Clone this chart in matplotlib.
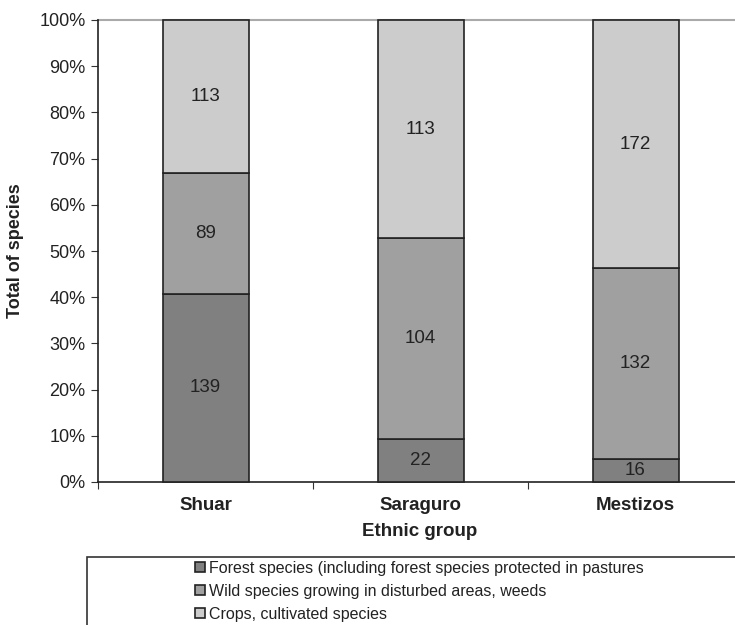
import matplotlib
matplotlib.use("Agg")
import matplotlib.pyplot as plt
import numpy as np
from matplotlib.patches import Rectangle

plt.rcParams['font.family'] = ['Liberation Sans', 'DejaVu Sans']

groups = ["Shuar", "Saraguro", "Mestizos"]
series_names = ["Forest species (including forest species protected in pastures",
                "Wild species growing in disturbed areas, weeds",
                "Crops, cultivated species"]
forest = [139, 22, 16]
wild = [89, 104, 132]
crops = [113, 113, 172]
colors = ["#808080", "#a0a0a0", "#cccccc"]

W, H = 735, 625
fig = plt.figure(figsize=(W / 100, H / 100), dpi=100)
ax = fig.add_axes([98 / W, 1 - 482 / H, 645 / W, 462 / H])

data = np.array([forest, wild, crops], dtype=float)
pct = data / data.sum(axis=0) * 100
x = np.arange(len(groups))
bottom = np.zeros(len(groups))
handles = []
for i in range(3):
    b = ax.bar(x, pct[i], 0.4, bottom=bottom, color=colors[i], edgecolor="#222222",
               linewidth=1.2, label=series_names[i], clip_on=False, zorder=3)
    handles.append(b)
    for j in range(len(groups)):
        ax.text(x[j], bottom[j] + pct[i][j] / 2, str(int(data[i][j])),
                ha="center", va="center", fontsize=13.5, color="#222222", zorder=4)
    bottom += pct[i]

ax.set_xlim(-0.5, 2.5)
ax.set_ylim(0, 100)
ax.set_yticks(np.arange(0, 101, 10))
ax.set_yticklabels([f"{v}%" for v in range(0, 101, 10)], fontsize=13, color="#222222")
ax.set_xticks([-0.5, 0.5, 1.5])
ax.set_xticklabels([])
ax.set_xticks(x, minor=True)
ax.set_xticklabels(groups, minor=True, fontsize=13.5, fontweight="bold", color="#222222")
ax.tick_params(axis="x", which="minor", length=0, pad=11)
ax.tick_params(axis="x", which="major", length=5, direction="out", color="#333333")
ax.tick_params(axis="y", length=5, direction="out", color="#333333", pad=4)
ax.axhline(100, color="#aaaaaa", linewidth=1.5, zorder=1, clip_on=False)
for s in ["top", "right"]:
    ax.spines[s].set_visible(False)
for s in ["left", "bottom"]:
    ax.spines[s].set_color("#222222")
    ax.spines[s].set_linewidth(1.2)
ax.set_xlabel("Ethnic group", fontsize=13.5, fontweight="bold", color="#222222")
ax.xaxis.set_label_coords((420 - 98) / 645, -(523 - 482) / 462)
ax.set_ylabel("Total of species", fontsize=13, fontweight="bold", color="#222222")
ax.yaxis.set_label_coords(-(98 - 24) / 645, 0.5)

# legend box
fig.patches.append(Rectangle((87 / W, -0.1), 1.0, 1 - 557 / H + 0.1, transform=fig.transFigure,
                             fill=False, edgecolor="#333333", linewidth=1.2))
leg = fig.legend(handles=handles, labels=series_names, loc="upper left",
                 bbox_to_anchor=(195 / W, 1 - 561 / H), frameon=False,
                 fontsize=11.5, handlelength=0.6, handleheight=0.6,
                 handletextpad=0.3, labelspacing=0.5, borderaxespad=0, borderpad=0)
for t in leg.get_texts():
    t.set_color("#222222")

fig.savefig("out.png", dpi=100)
